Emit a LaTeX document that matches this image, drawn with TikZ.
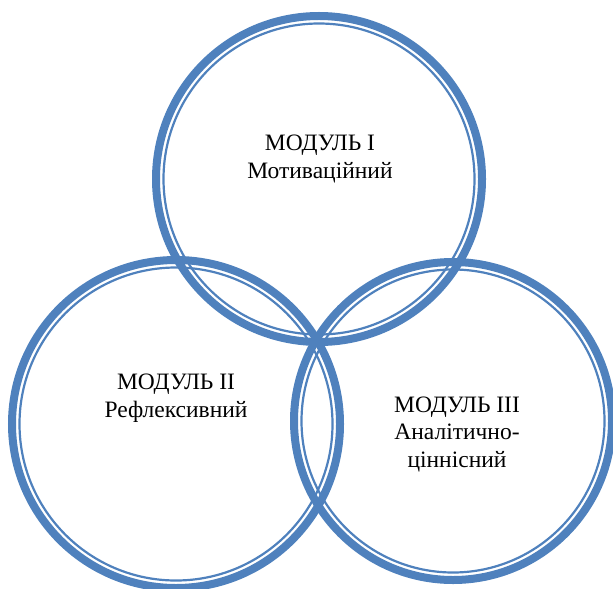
\documentclass[tikz,border=0pt]{standalone}
\usepackage{fontspec}
\setmainfont{Liberation Serif}
\definecolor{ringblue}{HTML}{4F81BD}

\begin{document}
\begin{tikzpicture}[x=1bp,y=-1bp]

\tikzset{
  ring/.style={draw=ringblue, line width=8bp},
  ringin/.style={draw=ringblue, line width=2.2bp},
  modtext/.style={align=center, inner sep=0pt, font=\fontsize{23.5bp}{27.5bp}\selectfont}
}

\useasboundingbox (0,0) rectangle (613,589);

\def\firstcircle{(319,179) circle (163bp)}
\def\secondcircle{(176,424) circle (164bp)}
\def\thirdcircle{(453,421) circle (159bp)}

\def\firstinner{(319,179) circle (155.5bp)}
\def\secondinner{(176,424) circle (156.5bp)}
\def\thirdinner{(453,421) circle (151.5bp)}

\draw[ring] \firstcircle;
\draw[ring] \secondcircle;
\draw[ring] \thirdcircle;

\draw[ringin] \firstinner;
\draw[ringin] \secondinner;
\draw[ringin] \thirdinner;

\node[modtext] (modone) at (320,159) {МОДУЛЬ I\\Мотиваційний};
\node[modtext] (modtwo) at (176,398) {МОДУЛЬ II\\Рефлексивний};
\node[modtext] (modthree) at (457,434) {МОДУЛЬ III\\Аналітично-\\ціннісний};

\end{tikzpicture}
\end{document}
